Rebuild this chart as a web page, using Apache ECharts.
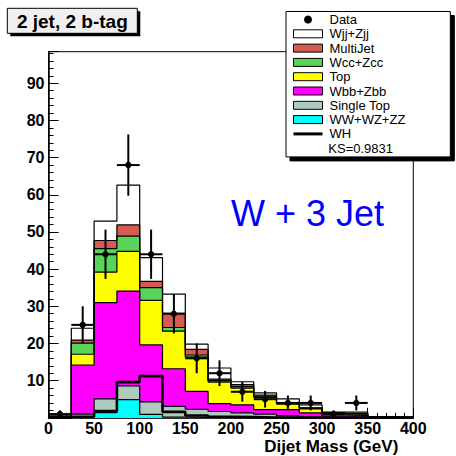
<!DOCTYPE html>
<html><head><meta charset="utf-8">
<script src="https://cdn.jsdelivr.net/npm/echarts@6/dist/echarts.min.js"></script>
<style>html,body{margin:0;padding:0;background:#fff}#c{width:456px;height:456px}</style>
</head><body><div id="c"></div>
<script>
// ---- data ----
const binEdges   = [0,25,50,75,100,125,150,175,200,225,250,275,300,325,350,375,400];
const dataCounts = [1,25,44,68,44,28,16,12,7,5,4,4,1,4,0,0];
// stack components, bottom to top
const wwWzZz   = [0,0.2,1.4,4.9,0.9,0.2,0.1,0.1,0,0,0,0,0,0,0,0];
const singleTop= [0.1,0.8,3.7,3.7,3.4,2.9,2.2,1.6,1.3,1.0,0.5,0.2,0.1,0.2,0,0];
const wbbZbb   = [0.2,13.2,25.9,25.5,15.3,10.1,4.8,2.1,2.2,1.2,1.7,1.1,0.4,0.4,0.1,0.05];
const ttbar    = [0,2.9,8.2,10.7,12.0,10.1,9.2,5.8,4.5,3.3,1.5,1.1,0.8,0.4,0.1,0.05];
const wccZcc   = [0,3.0,6.3,4.1,3.4,1.0,0.6,0.4,0.4,0.3,0.2,0.2,0.1,0.1,0,0];
const multiJet = [0,0.8,2.2,3.0,1.7,3.8,1.5,0.4,0.5,0.3,0.2,0.1,0,0,0,0];
const wjjZjj   = [0.2,3.2,5.2,10.7,6.4,5.2,1.4,3.0,0.8,0.6,1.0,0.8,0.1,0.4,0.15,0.1];
const whSignal = [0,0.3,1.8,9.6,11.2,1.6,0.6,0.3,0.2,0.1,0.05,0,0,0,0,0];
const xTicks = {min:0, max:400, step:50};
const yTicks = {min:0, max:98.5, step:10};
const xTitle = 'Dijet Mass (GeV)';
const ksText = 'KS=0.9831';

const layers = [
  {name:'WW+WZ+ZZ',  vals:wwWzZz,   color:'#00ffff'},
  {name:'Single Top',vals:singleTop,color:'#adcabe'},
  {name:'Wbb+Zbb',   vals:wbbZbb,   color:'#ff00ff'},
  {name:'Top',       vals:ttbar,    color:'#ffff00'},
  {name:'Wcc+Zcc',   vals:wccZcc,   color:'#5ad35a'},
  {name:'MultiJet',  vals:multiJet, color:'#d55a52'},
  {name:'Wjj+Zjj',   vals:wjjZjj,   color:'#ffffff'}
];

function stepPoints(vals){
  const pts = vals.map((v,i)=>[binEdges[i], v]);
  pts.push([binEdges[binEdges.length-1], vals[vals.length-1]]);
  return pts;
}
// cumulative sums
const cum = [];
let run = new Array(binEdges.length-1).fill(0);
layers.forEach(l=>{ run = run.map((r,i)=>r + l.vals[i]); cum.push(run.slice()); });

const FONT = 'Liberation Sans';
const series = [];
for (let k = layers.length-1; k >= 0; k--) {
  series.push({
    type:'line', name:layers[k].name, data:stepPoints(cum[k]), step:'end',
    symbol:'none', showSymbol:false, silent:true, animation:false, z:2,
    lineStyle:{color:'#000', width:1.2},
    itemStyle:{color:layers[k].color},
    areaStyle:{color:layers[k].color, opacity:1}
  });
}
series.push({
  type:'line', name:'WH', data:stepPoints(whSignal), step:'end',
  symbol:'none', showSymbol:false, silent:true, animation:false, z:3,
  lineStyle:{color:'#000', width:2.6}, itemStyle:{color:'#000'}
});
const dataPts = [];
dataCounts.forEach((n,i)=>{ if(n>0) dataPts.push([(binEdges[i]+binEdges[i+1])/2, n, binEdges[i], binEdges[i+1]]); });
series.push({
  type:'custom', name:'Data', data:dataPts, z:4, animation:false, silent:true,
  encode:{x:0, y:1}, itemStyle:{color:'#000'},
  renderItem:function(params, api){
    const x = api.value(0), y = api.value(1), lo = api.value(2), hi = api.value(3);
    const e = Math.sqrt(y);
    const c = api.coord([x,y]), t = api.coord([x,y+e]), b = api.coord([x,Math.max(0,y-e)]);
    const l = api.coord([lo,y]), r = api.coord([hi,y]);
    return {type:'group', children:[
      {type:'line', shape:{x1:t[0],y1:t[1],x2:b[0],y2:b[1]}, style:{stroke:'#000', lineWidth:2}},
      {type:'line', shape:{x1:l[0],y1:l[1],x2:r[0],y2:r[1]}, style:{stroke:'#000', lineWidth:2}},
      {type:'circle', shape:{cx:c[0],cy:c[1],r:3.2}, style:{fill:'#000'}}
    ]};
  }
});

const legendData = [{name:'Data', icon:'circle', itemStyle:{color:'#000', borderWidth:0}}];
for (let k = layers.length-1; k >= 0; k--) {
  legendData.push({name:layers[k].name, icon:'rect', itemStyle:{color:layers[k].color, borderColor:'#000', borderWidth:1}});
}
legendData.push({name:'WH', icon:'path://M0,0L29,0L29,3L0,3Z', itemStyle:{color:'#000', borderWidth:0}});

const axisCommon = {
  axisLine:{show:true, onZero:false, lineStyle:{color:'#000', width:1.5}},
  axisTick:{show:true, inside:true, length:10, lineStyle:{color:'#000', width:1}},
  minorTick:{show:true, splitNumber:5, length:5, lineStyle:{color:'#000', width:1}},
  splitLine:{show:false}, minorSplitLine:{show:false}
};

const option = {
  animation:false,
  backgroundColor:'#fff',
  grid:{left:48.5, right:42.7, top:51.7, bottom:38.2, show:true, borderColor:'#000', borderWidth:1,
        backgroundColor:'#fff', containLabel:false, outerBoundsMode:'none'},
  xAxis:Object.assign({type:'value', min:xTicks.min, max:xTicks.max, interval:xTicks.step,
    axisLabel:{color:'#000', fontSize:16, fontWeight:'bold', fontFamily:FONT, margin:3, hideOverlap:false}
  }, axisCommon),
  yAxis:Object.assign({type:'value', min:yTicks.min, max:yTicks.max, interval:yTicks.step,
    axisLabel:{color:'#000', fontSize:16, fontWeight:'bold', fontFamily:FONT, margin:4,
      formatter:function(v){ return (v>0 && Math.abs(v % 10) < 1e-9) ? String(v) : ''; }}
  }, axisCommon),
  legend:{
    orient:'vertical', left:286, top:11.5, padding:[1,45,16,7], itemGap:0.3,
    itemWidth:29, itemHeight:8, selectedMode:false,
    backgroundColor:'#fff', borderColor:'#000', borderWidth:1, borderRadius:0,
    shadowColor:'#000', shadowOffsetX:4, shadowOffsetY:4, shadowBlur:0,
    textStyle:{fontFamily:FONT, fontSize:13, color:'#000', lineHeight:14, padding:[0,0,0,2]},
    data:legendData
  },
  graphic:{elements:[
    {type:'rect', z:10, shape:{x:10.3, y:11.3, width:130, height:25}, style:{fill:'#000'}},
    {type:'rect', z:11, shape:{x:7.3, y:8.3, width:130, height:25}, style:{fill:'#f0f0f0', stroke:'#000', lineWidth:1}},
    {type:'text', z:12, x:72.3, y:21.2, style:{text:'2 jet, 2 b-tag', fontFamily:FONT, fontWeight:'bold', fontSize:19, fill:'#000', align:'center', verticalAlign:'middle', textAlign:'center', textVerticalAlign:'middle'}},
    {type:'text', z:12, x:328.3, y:148.3, style:{text:ksText, fontFamily:FONT, fontSize:13, fill:'#000', align:'left', verticalAlign:'middle', textAlign:'left', textVerticalAlign:'middle'}},
    {type:'text', z:12, x:231, y:213.5, style:{text:'W + 3 Jet', fontFamily:FONT, fontSize:36, fill:'#0000ff', align:'left', verticalAlign:'middle', textAlign:'left', textVerticalAlign:'middle'}},
    {type:'text', z:12, x:398.3, y:446.2, style:{text:xTitle, fontFamily:FONT, fontWeight:'bold', fontSize:17, fill:'#000', align:'right', verticalAlign:'middle', textAlign:'right', textVerticalAlign:'middle'}}
  ]},
  series:series
};
const chart = echarts.init(document.getElementById('c'), null, {renderer:'svg', width:456, height:456});
chart.setOption(option);
</script>
</body></html>
